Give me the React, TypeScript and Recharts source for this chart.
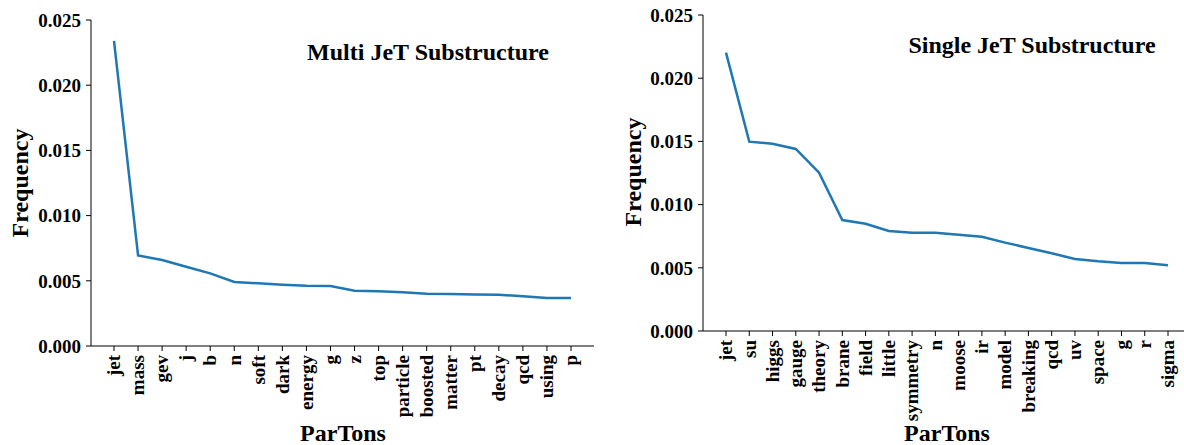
import { LineChart, Line, XAxis, YAxis } from 'recharts';

const multiTerms = ['jet', 'mass', 'gev', 'j', 'b', 'n', 'soft', 'dark', 'energy', 'g', 'z', 'top', 'particle', 'boosted', 'matter', 'pt', 'decay', 'qcd', 'using', 'p'];
const multiFreq = [0.0234, 0.00695, 0.0066, 0.00608, 0.00557, 0.00491, 0.00481, 0.0047, 0.00462, 0.0046, 0.00424, 0.0042, 0.00412, 0.00401, 0.00399, 0.00394, 0.00393, 0.00381, 0.00368, 0.00368];

const singleTerms = ['jet', 'su', 'higgs', 'gauge', 'theory', 'brane', 'field', 'little', 'symmetry', 'n', 'moose', 'ir', 'model', 'breaking', 'qcd', 'uv', 'space', 'g', 'r', 'sigma'];
const singleFreq = [0.02202, 0.01498, 0.01482, 0.0144, 0.01252, 0.00878, 0.00849, 0.00791, 0.00778, 0.00778, 0.00762, 0.00746, 0.00699, 0.00657, 0.00615, 0.0057, 0.00551, 0.00538, 0.00538, 0.0052];

const yTicks = [0, 0.005, 0.01, 0.015, 0.02, 0.025];

const FONT = '"Liberation Serif", "Times New Roman", serif';
const BLUE = '#1f77b4';

const multiData = multiTerms.map((t, i) => ({ term: t, freq: multiFreq[i] }));
const singleData = singleTerms.map((t, i) => ({ term: t, freq: singleFreq[i] }));

function XTick(props: any) {
  const { x, y, payload } = props;
  return (
    <text
      x={x}
      y={y}
      dy="0.33em"
      transform={`rotate(-90, ${x}, ${y})`}
      textAnchor="end"
      fontFamily={FONT}
      fontWeight="bold"
      fontSize={19}
      fill="#000"
    >
      {payload.value}
    </text>
  );
}

const yTickStyle = { fontFamily: FONT, fontWeight: 'bold', fontSize: 19, fill: '#000' };

function Panel({ data, width, top, yWidth, xHeight, rightSpine }: any) {
  return (
    <LineChart
      width={width}
      height={445}
      data={data}
      margin={{ top, right: rightSpine ? 6 : 0, left: 0, bottom: 0 }}
    >
      <XAxis
        dataKey="term"
        interval={0}
        height={xHeight}
        padding={{ left: 23, right: 23 }}
        tick={<XTick />}
        tickSize={5}
        tickMargin={4}
        axisLine={{ stroke: '#000', strokeWidth: 1 }}
        tickLine={{ stroke: '#000', strokeWidth: 1 }}
      />
      <XAxis
        xAxisId="top"
        dataKey="term"
        orientation="top"
        height={0}
        tick={false}
        tickLine={false}
        axisLine={{ stroke: '#000', strokeWidth: 1 }}
      />
      <YAxis
        width={yWidth}
        domain={[0, 0.025]}
        ticks={yTicks}
        tickFormatter={(v: number) => v.toFixed(3)}
        tick={yTickStyle}
        tickSize={5}
        tickMargin={5}
        axisLine={{ stroke: '#000', strokeWidth: 1 }}
        tickLine={{ stroke: '#000', strokeWidth: 1 }}
      />
      {rightSpine && (
        <YAxis
          yAxisId="right"
          orientation="right"
          width={0}
          domain={[0, 0.025]}
          tick={false}
          tickLine={false}
          axisLine={{ stroke: '#000', strokeWidth: 1 }}
        />
      )}
      <Line
        type="linear"
        dataKey="freq"
        stroke={BLUE}
        strokeWidth={2.5}
        dot={false}
        activeDot={false}
        isAnimationActive={false}
      />
    </LineChart>
  );
}

export default function App() {
  const txt = { fontFamily: FONT, fontWeight: 'bold' as const, fill: '#000' };
  return (
    <div style={{ position: 'fixed', left: 0, top: 0, width: 1184, height: 445, overflow: 'hidden', background: '#fff' }}>
      <div style={{ position: 'absolute', left: 0, top: 0 }}>
        <Panel data={multiData} width={600} top={20} yWidth={91} xHeight={99} rightSpine />
      </div>
      <div style={{ position: 'absolute', left: 610, top: 0 }}>
        <Panel data={singleData} width={581} top={15} yWidth={93} xHeight={114} rightSpine={false} />
      </div>
      <svg width={1184} height={445} style={{ position: 'absolute', left: 0, top: 0, pointerEvents: 'none' }}>
        <text x={428} y={60} textAnchor="middle" fontSize={24} {...txt}>Multi JeT Substructure</text>
        <text x={1032} y={53} textAnchor="middle" fontSize={24} {...txt}>Single JeT Substructure</text>
        <text x={28} y={183} transform="rotate(-90, 28, 183)" textAnchor="middle" fontSize={24} {...txt}>Frequency</text>
        <text x={641} y={172} transform="rotate(-90, 641, 172)" textAnchor="middle" fontSize={24} {...txt}>Frequency</text>
        <text x={343} y={441} textAnchor="middle" fontSize={24} {...txt}>ParTons</text>
        <text x={947} y={441} textAnchor="middle" fontSize={24} {...txt}>ParTons</text>
      </svg>
    </div>
  );
}
